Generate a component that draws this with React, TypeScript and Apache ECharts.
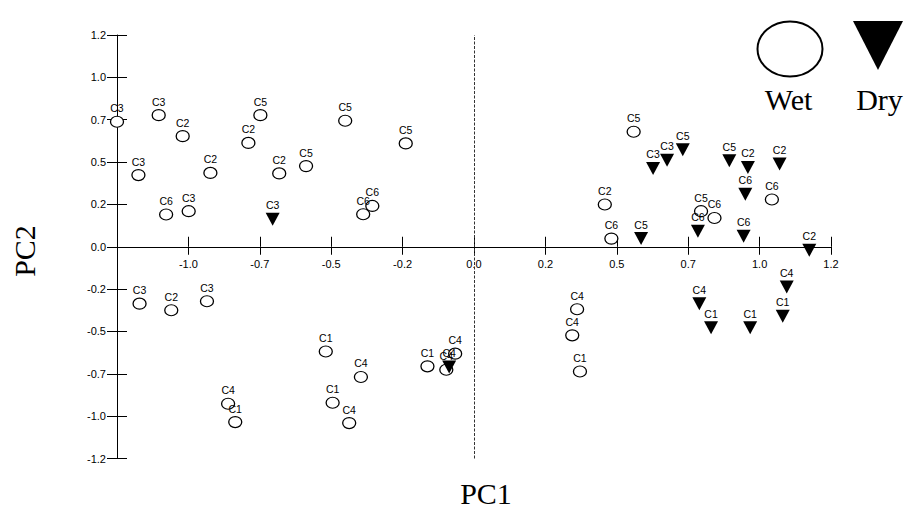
import React, { useEffect, useRef } from "react";
import * as echarts from "echarts";

// Wet season samples (open circles)
const wetLabels = [
  "C3", "C3", "C2", "C3", "C2", "C6", "C3", "C2", "C5", "C2", "C5", "C5",
  "C5", "C6", "C6", "C2", "C6", "C5", "C5", "C6", "C6", "C3", "C2", "C3",
  "C1", "C1", "C4", "C1", "C4", "C4", "C1", "C4", "C4", "C4", "C4", "C1",
];
const wetX = [
  -1.25, -1.104, -1.02, -1.175, -0.923, -1.078, -0.999, -0.79, -0.748, -0.682, -0.588, -0.451,
  -0.239, -0.388, -0.356, 0.458, 0.481, 0.559, 0.795, 0.842, 1.043, -1.171, -1.06, -0.935,
  -0.519, -0.495, -0.861, -0.836, -0.437, -0.396, -0.163, -0.066, -0.097, 0.361, 0.344, 0.371,
];
const wetY = [
  0.738, 0.777, 0.653, 0.423, 0.436, 0.19, 0.21, 0.613, 0.777, 0.433, 0.476, 0.744,
  0.61, 0.192, 0.241, 0.249, 0.048, 0.679, 0.21, 0.17, 0.279, -0.336, -0.375, -0.322,
  -0.618, -0.921, -0.927, -1.035, -1.041, -0.769, -0.706, -0.631, -0.726, -0.369, -0.523, -0.736,
];

// Dry season samples (filled down triangles)
const dryLabels = [
  "C3", "C3", "C3", "C5", "C5", "C2", "C2", "C6", "C6", "C6", "C5", "C2",
  "C4", "C1", "C4", "C1", "C1", "C4",
];
const dryX = [
  -0.705, 0.627, 0.676, 0.731, 0.894, 0.959, 1.07, 0.95, 0.784, 0.944, 0.585, 1.174,
  1.095, 1.081, 0.789, 0.83, 0.967, -0.087,
];
const dryY = [
  0.163, 0.462, 0.511, 0.572, 0.507, 0.468, 0.488, 0.31, 0.092, 0.062, 0.048, -0.021,
  -0.238, -0.411, -0.336, -0.478, -0.478, -0.71,
];

// Axis ticks and their printed labels
const axisTicks = [-1.25, -1, -0.75, -0.5, -0.25, 0, 0.25, 0.5, 0.75, 1, 1.25];
const axisTickLabels = ["-1.2", "-1.0", "-0.7", "-0.5", "-0.2", "0.0", "0.2", "0.5", "0.7", "1.0", "1.2"];

const seriesNames = ["Wet", "Dry"];
const axisTitles = ["PC1", "PC2"];

const tickFormatter = (v: number) => {
  const i = axisTicks.findIndex((t) => Math.abs(t - v) < 1e-6);
  return i >= 0 ? axisTickLabels[i] : "";
};

const ELLIPSE = "path://M6,0C9.3,0 12,2.2 12,5C12,7.8 9.3,10 6,10C2.7,10 0,7.8 0,5C0,2.2 2.7,0 6,0Z";
const TRI_DOWN = "path://M0,0L14,0L7,13Z";

const SERIF = "'Liberation Serif', 'Times New Roman', serif";
const SANS = "'Liberation Sans', Arial, sans-serif";

const GRID_TOP = 35;
const GRID_BOTTOM = 50.5;
const CHART_H = 509;
// x axis sits at y = 0, which is the middle of the symmetric y range
const X_AXIS_OFFSET = -(CHART_H - GRID_TOP - GRID_BOTTOM) / 2;

export default function App() {
  const ref = useRef<HTMLDivElement>(null);

  useEffect(() => {
    if (!ref.current) return;
    const chart = echarts.init(ref.current, undefined, { renderer: "svg" });

    const wetData = wetX.map((x, i) => ({ value: [x, wetY[i]], name: wetLabels[i] }));
    const dryData = dryX.map((x, i) => ({ value: [x, dryY[i]], name: dryLabels[i] }));

    const baseAxis = {
      type: "value" as const,
      min: -1.25,
      max: 1.25,
      interval: 0.25,
      splitLine: { show: false },
    };

    const pointLabel = {
      show: true,
      position: "top" as const,
      distance: 2,
      formatter: (p: any) => p.name,
      fontSize: 10.5,
      fontFamily: SANS,
      color: "#000",
    };

    chart.setOption({
      animation: false,
      backgroundColor: "#fff",
      grid: { left: 117, right: 76, top: GRID_TOP, bottom: GRID_BOTTOM, containLabel: false },
      xAxis: [
        {
          ...baseAxis,
          position: "bottom",
          offset: X_AXIS_OFFSET,
          axisLine: { show: true, onZero: false, lineStyle: { color: "#000", width: 1 } },
          axisTick: { show: true, inside: true, length: 10, lineStyle: { color: "#000" } },
          axisLabel: {
            show: true,
            margin: 12,
            fontSize: 11,
            fontFamily: SANS,
            color: "#000",
            showMinLabel: false,
            formatter: tickFormatter,
          },
        },
        {
          ...baseAxis,
          position: "bottom",
          offset: X_AXIS_OFFSET,
          axisLine: { show: false, onZero: false },
          axisTick: { show: true, inside: false, length: 8, lineStyle: { color: "#000" } },
          axisLabel: { show: false },
        },
      ],
      yAxis: [
        {
          ...baseAxis,
          position: "left",
          axisLine: { show: true, onZero: false, lineStyle: { color: "#000", width: 1 } },
          axisTick: { show: true, inside: true, length: 10, lineStyle: { color: "#000" } },
          axisLabel: {
            show: true,
            margin: 11,
            fontSize: 11,
            fontFamily: SANS,
            color: "#000",
            formatter: tickFormatter,
          },
        },
        {
          ...baseAxis,
          position: "left",
          offset: 0,
          axisLine: { show: false, onZero: false },
          axisTick: { show: true, inside: false, length: 10, lineStyle: { color: "#000" } },
          axisLabel: { show: false },
        },
      ],
      series: [
        {
          name: seriesNames[0],
          type: "scatter",
          xAxisIndex: 0,
          yAxisIndex: 0,
          clip: false,
          symbol: ELLIPSE,
          symbolSize: [13, 11],
          itemStyle: { color: "#fff", borderColor: "#000", borderWidth: 1.2, opacity: 1 },
          label: pointLabel,
          data: wetData,
          markLine: {
            silent: true,
            symbol: "none",
            label: { show: false },
            lineStyle: { type: [3, 1.5], color: "#333", width: 1 },
            data: [{ xAxis: 0 }],
          },
        },
        {
          name: seriesNames[1],
          type: "scatter",
          xAxisIndex: 0,
          yAxisIndex: 0,
          clip: false,
          symbol: TRI_DOWN,
          symbolSize: [14, 13],
          itemStyle: { color: "#000", opacity: 1 },
          label: pointLabel,
          data: dryData,
        },
      ],
      graphic: [
        {
          type: "ellipse",
          shape: { cx: 790, cy: 49, rx: 32.5, ry: 27.5 },
          style: { fill: "#fff", stroke: "#000", lineWidth: 2 },
        },
        {
          type: "polygon",
          shape: { points: [[853, 21], [903, 21], [878, 70]] },
          style: { fill: "#000" },
        },
        {
          type: "text",
          x: 788.5,
          y: 99,
          style: {
            text: seriesNames[0],
            font: `30px ${SERIF}`,
            fill: "#000",
            align: "center",
            verticalAlign: "middle",
          },
        },
        {
          type: "text",
          x: 879.5,
          y: 99,
          style: {
            text: seriesNames[1],
            font: `30px ${SERIF}`,
            fill: "#000",
            align: "center",
            verticalAlign: "middle",
          },
        },
        {
          type: "text",
          x: 486,
          y: 493,
          style: {
            text: axisTitles[0],
            font: `30px ${SERIF}`,
            fill: "#000",
            align: "center",
            verticalAlign: "middle",
          },
        },
        {
          type: "text",
          x: 24,
          y: 251,
          rotation: Math.PI / 2,
          style: {
            text: axisTitles[1],
            font: `30px ${SERIF}`,
            fill: "#000",
            align: "center",
            verticalAlign: "middle",
          },
        },
      ],
    });

    return () => chart.dispose();
  }, []);

  return (
    <div
      ref={ref}
      style={{ position: "fixed", left: 0, top: 0, width: 907, height: 509, background: "#fff" }}
    />
  );
}
